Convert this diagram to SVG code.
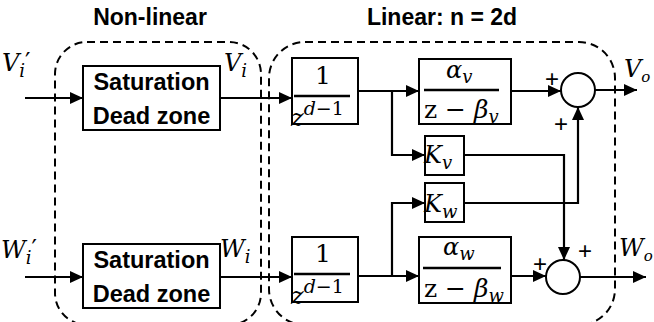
<svg xmlns="http://www.w3.org/2000/svg" width="654" height="322" viewBox="0 0 654 322">
<style>
.title{font-family:"Liberation Sans",Arial,sans-serif;font-weight:bold;font-size:23px;fill:#000}
.blk{font-family:"Liberation Sans",Arial,sans-serif;font-weight:bold;font-size:23.5px;fill:#000}
.m{font-family:"DejaVu Serif",serif;font-style:italic;font-size:24px;fill:#000}
.mr{font-family:"DejaVu Serif",serif;font-size:25px;fill:#000}
.sub{font-size:18px}
.box{fill:#fff;stroke:#000;stroke-width:2}
.dash{fill:none;stroke:#000;stroke-width:2;stroke-dasharray:8,5}
.arr{fill:none;stroke:#000;stroke-width:2.2;marker-end:url(#ah)}
.frac{stroke:#000;stroke-width:2.4}
.pl{font-family:"Liberation Sans",Arial,sans-serif;font-size:24px;fill:#000}
</style>
<defs>
<marker id="ah" markerUnits="userSpaceOnUse" markerWidth="14" markerHeight="12" refX="13" refY="6" orient="auto">
<path d="M0,0 L13,6 L0,12 z" fill="#000"/>
</marker>
</defs>

<g id="groups">
<rect class="dash" x="55" y="42" width="206" height="283" rx="32"/>
<rect class="dash" x="269" y="42" width="346" height="283" rx="36"/>
<text class="title" x="150" y="25" text-anchor="middle">Non-linear</text>
<text class="title" x="442" y="25" text-anchor="middle">Linear: n = 2d</text>
</g>

<g id="connectors">
<line class="arr" x1="25" y1="98" x2="83" y2="98"/>
<line class="arr" x1="220" y1="98" x2="292" y2="98"/>
<line class="arr" x1="358" y1="91" x2="419" y2="91"/>
<polyline class="arr" points="392,91 392,155 425,155"/>
<line class="arr" x1="511" y1="91" x2="561" y2="91"/>
<line class="arr" x1="595" y1="90" x2="637" y2="90"/>
<polyline class="arr" points="464,155 564,155 564,260"/>
<polyline class="arr" points="464,203 578,203 578,107"/>
<line class="arr" x1="25" y1="277" x2="83" y2="277"/>
<line class="arr" x1="220" y1="277" x2="292" y2="277"/>
<line class="arr" x1="358" y1="276" x2="419" y2="276"/>
<polyline class="arr" points="392,276 392,203 425,203"/>
<line class="arr" x1="511" y1="276" x2="546" y2="276"/>
<line class="arr" x1="580" y1="277" x2="646" y2="277"/>
</g>

<g id="labels">
<text class="m" x="2" y="71">V<tspan class="sub" dy="6">i</tspan><tspan dy="-7" font-style="normal">′</tspan></text>
<text class="m" x="224" y="71">V<tspan class="sub" dy="6">i</tspan></text>
<text class="m" x="1" y="258">W<tspan class="sub" dy="6">i</tspan><tspan dy="-7" font-style="normal">′</tspan></text>
<text class="m" x="220" y="257">W<tspan class="sub" dy="6">i</tspan></text>
<text class="m" x="624" y="77" font-size="22">V<tspan dy="5" font-size="15">o</tspan></text>
<text class="m" x="619" y="256" font-size="22">W<tspan dy="5" font-size="15">o</tspan></text>
</g>

<g id="sat_v">
<rect class="box" x="83" y="66" width="137" height="64"/>
<text class="blk" x="151.5" y="90" text-anchor="middle">Saturation</text>
<text class="blk" x="151.5" y="124" text-anchor="middle">Dead zone</text>
</g>
<g id="sat_w">
<rect class="box" x="83" y="244" width="137" height="64"/>
<text class="blk" x="151.5" y="268" text-anchor="middle">Saturation</text>
<text class="blk" x="151.5" y="302" text-anchor="middle">Dead zone</text>
</g>

<g id="delay_v">
<rect class="box" x="292" y="58" width="66" height="66"/>
<line class="frac" x1="294" y1="96" x2="350" y2="96"/>
<text class="mr" x="323" y="84" text-anchor="middle" font-size="23">1</text>
<text class="m" x="291" y="126" font-size="25">z<tspan dy="-11" font-size="19">d</tspan><tspan font-style="normal" font-size="19">−1</tspan></text>
</g>
<g id="delay_w">
<rect class="box" x="292" y="237" width="66" height="65"/>
<line class="frac" x1="294" y1="274" x2="350" y2="274"/>
<text class="mr" x="323" y="262" text-anchor="middle" font-size="23">1</text>
<text class="m" x="291" y="304" font-size="25">z<tspan dy="-11" font-size="19">d</tspan><tspan font-style="normal" font-size="19">−1</tspan></text>
</g>

<g id="filter_v">
<rect class="box" x="419" y="59" width="92" height="65"/>
<line class="frac" x1="424" y1="90" x2="499" y2="90"/>
<text class="m" x="446" y="78" font-size="26">α<tspan class="sub" dy="5">v</tspan></text>
<text class="mr" x="424" y="118">z − <tspan font-style="italic">β</tspan><tspan class="sub" font-style="italic" dy="5">v</tspan></text>
</g>
<g id="filter_w">
<rect class="box" x="419" y="237" width="92" height="66"/>
<line class="frac" x1="423" y1="268" x2="501" y2="268"/>
<text class="m" x="443" y="255" font-size="26">α<tspan class="sub" dy="5">w</tspan></text>
<text class="mr" x="424" y="297">z − <tspan font-style="italic">β</tspan><tspan class="sub" font-style="italic" dy="5">w</tspan></text>
</g>

<g id="gain_v">
<rect class="box" x="425" y="136" width="39" height="39"/>
<text class="m" x="424" y="163" font-size="25">K<tspan class="sub" dy="6">v</tspan></text>
</g>
<g id="gain_w">
<rect class="box" x="425" y="183" width="39" height="39"/>
<text class="m" x="424" y="212" font-size="25">K<tspan class="sub" dy="6">w</tspan></text>
</g>

<g id="sum_v">
<circle class="box" cx="578" cy="90" r="17"/>
<text class="pl" x="552" y="87" text-anchor="middle">+</text>
<text class="pl" x="561" y="132" text-anchor="middle">+</text>
</g>
<g id="sum_w">
<circle class="box" cx="563" cy="277" r="17"/>
<text class="pl" x="585" y="259" text-anchor="middle">+</text>
<text class="pl" x="540" y="272" text-anchor="middle">+</text>
</g>
</svg>
